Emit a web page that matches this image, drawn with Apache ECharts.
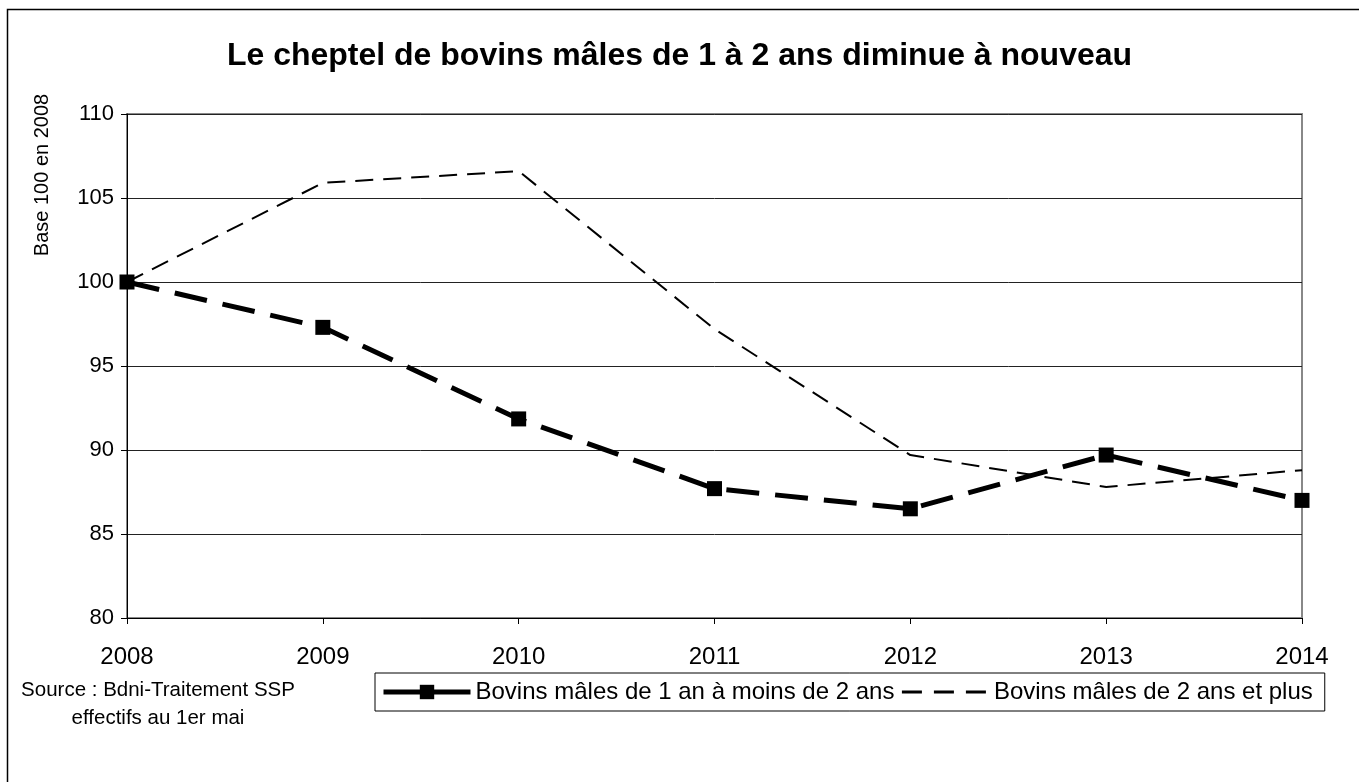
<!DOCTYPE html>
<html>
<head>
<meta charset="utf-8">
<script src="https://cdn.jsdelivr.net/npm/echarts@6/dist/echarts.min.js"></script>
<style>
  html, body { margin: 0; padding: 0; background: #fff; }
  #chart { width: 1359px; height: 782px; }
</style>
</head>
<body>
<div id="chart"></div>
<script>
// données (base 100 en 2008)
var years = ['2008', '2009', '2010', '2011', '2012', '2013', '2014'];
var jeunes = [100, 97.3, 91.85, 87.7, 86.5, 89.7, 87.0];
var adultes = [100, 105.9, 106.6, 97.2, 89.7, 87.8, 88.8];
var seriesNames = ['Bovins mâles de 1 an à moins de 2 ans', 'Bovins mâles de 2 ans et plus'];

var font = 'Liberation Sans, Arial, sans-serif';
var myChart = echarts.init(document.getElementById('chart'));

var option = {
    animation: false,
    backgroundColor: '#fff',
    title: {
        text: 'Le cheptel de bovins mâles de 1 à 2 ans diminue à nouveau',
        left: 'center',
        top: 35,
        textStyle: { fontFamily: font, fontSize: 32, fontWeight: 'bold', color: '#000' }
    },
    grid: {
        left: 127, right: 57, top: 114, bottom: 164,
        show: true,
        borderColor: '#888',
        borderWidth: 2
    },
    legend: {
        left: 375,
        top: 673,
        padding: [7, 12, 7, 6],
        itemGap: 6,
        itemWidth: 87,
        itemHeight: 18,
        borderColor: '#000',
        borderWidth: 1,
        borderRadius: 0,
        textStyle: { fontFamily: font, fontSize: 24, color: '#000' },
        data: [
            {
                name: seriesNames[0],
                lineStyle: { width: 5, type: [42, 8] },
                textStyle: { width: 408 }
            },
            {
                name: seriesNames[1],
                lineStyle: { width: 3, type: [20, 12] },
                itemStyle: { color: 'rgba(0,0,0,0)', borderWidth: 0, opacity: 0 },
                textStyle: { width: 330 }
            }
        ]
    },
    xAxis: {
        type: 'category',
        data: years,
        boundaryGap: false,
        axisLine: { lineStyle: { color: '#000', width: 1 } },
        axisTick: { show: true, inside: false, length: 6, lineStyle: { color: '#000' } },
        axisLabel: { margin: 27, fontFamily: font, fontSize: 24, color: '#000' },
        splitLine: { show: false }
    },
    yAxis: {
        type: 'value',
        min: 80,
        max: 110,
        interval: 5,
        axisLine: { show: true, lineStyle: { color: '#000', width: 1 } },
        axisTick: { show: true, inside: false, length: 6, lineStyle: { color: '#000' } },
        axisLabel: { margin: 13, fontFamily: font, fontSize: 22, color: '#000' },
        splitLine: { show: true, lineStyle: { color: '#222', width: 1 } }
    },
    series: [
        {
            name: seriesNames[0],
            type: 'line',
            data: jeunes,
            symbol: 'rect',
            symbolSize: 15,
            itemStyle: { color: '#000' },
            lineStyle: { color: '#000', width: 5, type: [33, 16] },
            z: 3
        },
        {
            name: seriesNames[1],
            type: 'line',
            data: adultes,
            symbol: 'none',
            showSymbol: false,
            itemStyle: { color: '#000' },
            lineStyle: { color: '#000', width: 2, type: [18, 10] },
            z: 2
        }
    ],
    graphic: [
        {
            type: 'rect',
            shape: { x: 7.5, y: 9.5, width: 1400, height: 800 },
            style: { fill: 'none', stroke: '#000', lineWidth: 1.5 },
            silent: true
        },
        {
            type: 'text',
            x: 42,
            y: 175,
            rotation: Math.PI / 2,
            style: {
                text: 'Base 100 en 2008',
                fontFamily: font,
                fontSize: 20,
                fill: '#000',
                align: 'center',
                verticalAlign: 'middle'
            }
        },
        {
            type: 'text',
            x: 158,
            y: 704,
            style: {
                text: 'Source : Bdni-Traitement SSP\neffectifs au 1er mai',
                fontFamily: font,
                fontSize: 20.5,
                lineHeight: 28,
                fill: '#000',
                align: 'center',
                verticalAlign: 'middle'
            }
        }
    ]
};
myChart.setOption(option);
</script>
</body>
</html>
